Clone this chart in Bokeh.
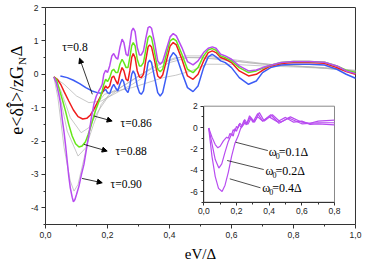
import math
from bokeh.plotting import figure
from bokeh.models import Range1d, FixedTicker, Arrow, NormalHead, Label, LinearAxis
from bokeh.embed import file_html
from bokeh.resources import INLINE
from bokeh.core.properties import value

# ---------------- data ----------------
x_ticks = [0.0, 0.2, 0.4, 0.6, 0.8, 1.0]
x_tick_labels = ["0,0", "0,2", "0,4", "0,6", "0,8", "1,0"]
y_ticks = [-4, -3, -2, -1, 0, 1, 2]
y_tick_labels = ["-4", "-3", "-2", "-1", "0", "1", "2"]

tau_labels = ["\u03c4=0.8", "\u03c4=0.86", "\u03c4=0.88", "\u03c4=0.90"]

tau080_x = [0.048, 0.07, 0.09, 0.11, 0.13, 0.15, 0.167, 0.18, 0.188, 0.194, 0.2, 0.207, 0.214, 0.22, 0.227, 0.233, 0.24, 0.247, 0.252, 0.258, 0.266, 0.272, 0.278, 0.283, 0.289, 0.296, 0.303, 0.309, 0.316, 0.324, 0.331, 0.336, 0.342, 0.352, 0.362, 0.37, 0.378, 0.39, 0.402, 0.412, 0.422, 0.44, 0.458, 0.476, 0.492, 0.51, 0.525, 0.538, 0.55, 0.565, 0.58, 0.6, 0.625, 0.655, 0.68, 0.7, 0.726, 0.76, 0.8, 0.85, 0.9, 0.94, 0.97, 1.0]
tau080_y = [-0.05, -0.1, -0.18, -0.28, -0.4, -0.5, -0.55, -0.57, -0.5, -0.45, -0.55, -0.58, -0.4, -0.3, -0.42, -0.5, -0.3, -0.15, -0.22, -0.45, -0.55, -0.35, 0.0, 0.1, 0.0, -0.35, -0.55, -0.6, -0.5, -0.05, 0.35, 0.42, 0.35, -0.1, -0.55, -0.65, -0.55, -0.05, 0.5, 0.65, 0.55, 0.05, -0.4, -0.52, -0.35, 0.2, 0.52, 0.6, 0.52, 0.4, 0.35, 0.2, -0.1, -0.3, -0.2, 0.05, 0.2, 0.28, 0.3, 0.3, 0.28, 0.15, 0.0, -0.12]

tau086_x = [0.027, 0.038, 0.05, 0.06, 0.075, 0.09, 0.105, 0.12, 0.133, 0.145, 0.156, 0.167, 0.178, 0.188, 0.194, 0.2, 0.207, 0.214, 0.22, 0.227, 0.233, 0.24, 0.247, 0.253, 0.26, 0.266, 0.272, 0.278, 0.283, 0.289, 0.296, 0.303, 0.309, 0.316, 0.324, 0.331, 0.336, 0.342, 0.352, 0.362, 0.37, 0.378, 0.39, 0.402, 0.412, 0.422, 0.44, 0.458, 0.476, 0.492, 0.51, 0.525, 0.538, 0.55, 0.565, 0.58, 0.6, 0.625, 0.655, 0.68, 0.7, 0.726, 0.76, 0.8, 0.85, 0.9, 0.94, 0.97, 1.0]
tau086_y = [-0.08, -0.15, -0.32, -0.52, -0.8, -1.07, -1.27, -1.34, -1.32, -1.22, -1.05, -0.85, -0.65, -0.45, -0.35, -0.42, -0.35, -0.1, -0.05, -0.2, -0.3, 0.0, 0.2, 0.1, -0.15, -0.2, 0.1, 0.5, 0.62, 0.5, 0.1, -0.08, -0.1, 0.0, 0.45, 0.82, 0.88, 0.82, 0.4, -0.05, -0.12, -0.02, 0.4, 0.85, 0.95, 0.88, 0.45, -0.05, -0.15, 0.0, 0.4, 0.65, 0.7, 0.65, 0.5, 0.45, 0.35, 0.1, -0.05, 0.0, 0.12, 0.25, 0.32, 0.35, 0.35, 0.33, 0.2, 0.08, 0.0]

tau088_x = [0.027, 0.035, 0.043, 0.054, 0.065, 0.075, 0.086, 0.097, 0.108, 0.118, 0.129, 0.137, 0.145, 0.153, 0.161, 0.169, 0.177, 0.183, 0.188, 0.194, 0.2, 0.207, 0.214, 0.22, 0.227, 0.233, 0.24, 0.247, 0.253, 0.26, 0.266, 0.272, 0.278, 0.283, 0.289, 0.296, 0.303, 0.309, 0.316, 0.324, 0.331, 0.336, 0.342, 0.352, 0.362, 0.37, 0.378, 0.39, 0.402, 0.412, 0.422, 0.44, 0.458, 0.476, 0.492, 0.51, 0.525, 0.538, 0.55, 0.565, 0.58, 0.6, 0.625, 0.655, 0.68, 0.7, 0.726, 0.76, 0.8, 0.85, 0.9, 0.94, 0.97, 1.0]
tau088_y = [-0.08, -0.15, -0.4, -0.75, -1.12, -1.5, -1.85, -2.08, -2.18, -2.15, -2.02, -1.82, -1.6, -1.35, -1.1, -0.9, -0.7, -0.5, -0.3, -0.15, -0.22, -0.1, 0.1, 0.15, 0.05, 0.05, 0.3, 0.45, 0.35, 0.2, 0.2, 0.5, 0.85, 0.95, 0.85, 0.45, 0.25, 0.25, 0.35, 0.75, 1.1, 1.15, 1.1, 0.65, 0.15, 0.08, 0.15, 0.6, 1.0, 1.07, 1.0, 0.6, 0.15, 0.05, 0.2, 0.55, 0.73, 0.77, 0.72, 0.55, 0.5, 0.4, 0.2, 0.05, 0.1, 0.18, 0.27, 0.35, 0.38, 0.38, 0.36, 0.25, 0.12, 0.05]

tau090_x = [0.027, 0.035, 0.043, 0.048, 0.054, 0.06, 0.065, 0.07, 0.075, 0.08, 0.086, 0.09, 0.095, 0.1, 0.108, 0.116, 0.124, 0.132, 0.14, 0.148, 0.156, 0.164, 0.172, 0.178, 0.183, 0.188, 0.194, 0.2, 0.207, 0.214, 0.22, 0.227, 0.233, 0.24, 0.247, 0.253, 0.26, 0.266, 0.272, 0.278, 0.283, 0.289, 0.296, 0.303, 0.309, 0.316, 0.324, 0.331, 0.336, 0.342, 0.352, 0.362, 0.37, 0.378, 0.39, 0.402, 0.412, 0.422, 0.44, 0.458, 0.476, 0.492, 0.51, 0.525, 0.538, 0.55, 0.565, 0.58, 0.6, 0.625, 0.655, 0.68, 0.7, 0.726, 0.76, 0.8, 0.85, 0.9, 0.94, 0.97, 1.0]
tau090_y = [-0.08, -0.25, -0.6, -0.85, -1.35, -1.75, -2.15, -2.6, -3.05, -3.4, -3.68, -3.82, -3.75, -3.6, -3.35, -3.0, -2.7, -2.25, -1.8, -1.3, -0.9, -0.65, -0.5, -0.4, -0.3, 0.0, 0.12, 0.05, 0.25, 0.55, 0.62, 0.5, 0.45, 0.8, 1.05, 0.95, 0.6, 0.55, 0.9, 1.3, 1.38, 1.28, 0.8, 0.58, 0.58, 0.7, 1.1, 1.4, 1.43, 1.38, 0.95, 0.4, 0.3, 0.38, 0.75, 1.12, 1.22, 1.15, 0.8, 0.38, 0.28, 0.4, 0.65, 0.78, 0.82, 0.78, 0.6, 0.55, 0.45, 0.25, 0.1, 0.13, 0.2, 0.27, 0.35, 0.38, 0.38, 0.36, 0.25, 0.1, 0.02]

# thin grey curves
grey1_x = [0.027, 0.06, 0.1, 0.14, 0.18, 0.22, 0.28, 0.34, 0.4, 0.46, 0.55, 0.65, 0.75, 0.85, 0.95, 1.0]
grey1_y = [-0.08, -0.3, -0.65, -0.85, -0.8, -0.6, -0.3, 0.05, 0.35, 0.5, 0.48, 0.35, 0.28, 0.22, 0.15, 0.1]
grey2_x = [0.027, 0.05, 0.08, 0.115, 0.14, 0.17, 0.2, 0.25, 0.3, 0.36, 0.42, 0.5, 0.6, 0.7, 0.8, 0.9, 1.0]
grey2_y = [-0.08, -0.5, -1.3, -1.75, -1.6, -1.1, -0.7, -0.35, -0.05, 0.3, 0.5, 0.5, 0.4, 0.3, 0.25, 0.2, 0.12]
grey3_x = [0.027, 0.045, 0.07, 0.105, 0.13, 0.155, 0.18, 0.21, 0.26, 0.32, 0.38, 0.45, 0.52, 0.62, 0.72, 0.85, 1.0]
grey3_y = [-0.08, -0.6, -1.7, -2.45, -2.2, -1.5, -0.9, -0.55, -0.3, 0.05, 0.35, 0.55, 0.55, 0.42, 0.3, 0.22, 0.1]
grey4_x = [0.027, 0.04, 0.06, 0.08, 0.092, 0.105, 0.125, 0.145, 0.165, 0.19, 0.23, 0.28, 0.33, 0.38, 0.42, 0.47, 0.52, 0.6, 0.7, 0.8, 0.9, 1.0]
grey4_y = [-0.08, -0.7, -2.2, -3.2, -3.5, -3.3, -2.5, -1.6, -0.9, -0.6, -0.5, -0.4, -0.25, -0.1, -0.03, 0.1, 0.3, 0.3, 0.25, 0.22, 0.18, 0.08]

# inset data
inset_x_ticks = [0.0, 0.2, 0.4, 0.6, 0.8]
inset_x_tick_labels = ["0,0", "0,2", "0,4", "0,6", "0,8"]
inset_y_ticks = [-6, -4, -2, 0, 2]
inset_y_tick_labels = ["-6", "-4", "-2", "0", "2"]
omega_labels = ["=0.1\u0394", "=0.2\u0394", "=0.4\u0394"]

w01_x = [0.03, 0.05, 0.07, 0.086, 0.1, 0.12, 0.14, 0.15, 0.16, 0.17, 0.18, 0.19, 0.2, 0.21, 0.22, 0.235, 0.25, 0.265, 0.285, 0.305, 0.33, 0.36, 0.4, 0.45, 0.5, 0.55, 0.6, 0.65, 0.7, 0.8]
w01_y = [-0.05, -0.9, -1.6, -1.9, -1.75, -1.25, -0.9, -1.0, -0.55, -0.7, -0.2, -0.35, 0.1, -0.05, 0.4, 0.15, 0.75, 0.4, 1.0, 0.5, 1.0, 0.6, 1.0, 0.55, 0.95, 0.5, 0.6, 0.3, 0.35, 0.25]
w02_x = [0.03, 0.05, 0.07, 0.092, 0.11, 0.13, 0.15, 0.17, 0.18, 0.19, 0.2, 0.215, 0.23, 0.245, 0.26, 0.28, 0.3, 0.33, 0.36, 0.41, 0.46, 0.52, 0.6, 0.7, 0.8]
w02_y = [-0.05, -1.5, -3.0, -3.8, -3.4, -2.3, -1.3, -0.6, -0.8, -0.1, -0.35, 0.3, 0.0, 0.65, 0.25, 1.1, 0.5, 1.3, 0.6, 1.2, 0.4, 0.9, 0.35, 0.45, 0.45]
w04_x = [0.03, 0.05, 0.07, 0.09, 0.112, 0.13, 0.15, 0.17, 0.19, 0.21, 0.225, 0.24, 0.255, 0.27, 0.29, 0.31, 0.34, 0.37, 0.42, 0.47, 0.53, 0.6, 0.65, 0.7, 0.8]
w04_y = [-0.05, -2.7, -4.6, -5.7, -6.0, -5.4, -4.2, -2.7, -1.5, -0.8, -0.1, 0.2, 0.5, 0.3, 0.9, 0.5, 1.4, 0.6, 1.2, 0.5, 1.0, 0.5, 0.4, 0.6, 0.7]

# ---------------- figure ----------------
SERIF = "Liberation Serif"
SANS = "Liberation Sans"
XMIN, XMAX = 0.0, 1.0
YMIN, YMAX = -4.5, 2.0

# the frame fills the whole canvas; axes are pinned at the data box edges
p = figure(width=372, height=262, x_range=Range1d(-0.14516, 1.05484),
           y_range=Range1d(-5.6382, 2.2097),
           output_backend="svg", toolbar_location=None,
           x_axis_location=None, y_axis_location=None,
           min_border_left=0, min_border_right=0, min_border_top=0, min_border_bottom=0)
p.background_fill_color = "white"
p.border_fill_color = "white"
p.outline_line_color = None
p.grid.visible = False


def style_axis(ax, major=4, minor=2):
    ax.axis_line_color = "#333333"
    ax.major_tick_line_color = "#333333"
    ax.minor_tick_line_color = "#333333"
    ax.major_tick_in = 0
    ax.major_tick_out = major
    ax.minor_tick_in = 0
    ax.minor_tick_out = minor
    ax.major_label_text_font = SANS
    ax.major_label_text_font_size = "8.5px"
    ax.major_label_text_color = "#222222"
    ax.major_label_standoff = 3


xax = LinearAxis(fixed_location=YMIN, bounds=(XMIN, XMAX),
                 ticker=FixedTicker(ticks=x_ticks, minor_ticks=[0.1, 0.3, 0.5, 0.7, 0.9]),
                 major_label_overrides=dict(zip(x_ticks, x_tick_labels)))
yax = LinearAxis(fixed_location=XMIN, bounds=(YMIN, YMAX),
                 ticker=FixedTicker(ticks=y_ticks, minor_ticks=[-4.5, -3.5, -2.5, -1.5, -0.5, 0.5, 1.5]),
                 major_label_overrides=dict(zip(y_ticks, y_tick_labels)))
style_axis(xax)
style_axis(yax)

# main box (top and right sides)
p.segment(x0=[XMIN, XMAX], y0=[YMAX, YMIN], x1=[XMAX, XMAX], y1=[YMAX, YMAX],
          line_color="#333333", line_width=1)

# grey curves
for gx, gy in [(grey1_x, grey1_y), (grey2_x, grey2_y), (grey3_x, grey3_y), (grey4_x, grey4_y)]:
    p.line(gx, gy, line_color="#b0b0b0", line_width=0.7)

# coloured curves
p.line(tau080_x, tau080_y, line_color="#3c5cf5", line_width=1.5)
p.line(tau086_x, tau086_y, line_color="#f01c1c", line_width=1.5)
p.line(tau088_x, tau088_y, line_color="#66e619", line_width=1.5)
p.line(tau090_x, tau090_y, line_color="#b84cf0", line_width=1.5)

# tau annotations
arrows = [((0.151, -0.60), (0.110, 0.48)),
          ((0.156, -1.25), (0.215, -1.40)),
          ((0.124, -2.10), (0.199, -2.30)),
          ((0.118, -3.12), (0.183, -3.25))]
label_pos = [(0.054, 0.82), (0.242, -1.46), (0.226, -2.30), (0.21, -3.28)]
for (s, e), (lx, ly), txt in zip(arrows, label_pos, tau_labels):
    p.add_layout(Arrow(x_start=s[0], y_start=s[1], x_end=e[0], y_end=e[1],
                       line_color="black", line_width=0.8,
                       end=NormalHead(size=5, fill_color="black", line_color="black")))
    p.add_layout(Label(x=lx, y=ly, text=txt, text_font=SERIF, text_font_size="11.5px",
                       text_baseline="middle", text_align="left", text_color="black"))

# axis titles
p.add_layout(Label(x=0.5, y=-5.38, text="eV/\u0394", text_font=SERIF, text_font_size="15px",
                   text_align="center", text_baseline="middle", text_color="black"))
p.add_layout(Label(x=-0.092, y=0.25, text="e<\u03b4\u00ce>/zG", angle=math.pi / 2,
                   text_font=SERIF, text_font_size="18px", text_align="right",
                   text_baseline="middle", text_color="black"))
p.add_layout(Label(x=-0.077, y=0.28, text="N", angle=math.pi / 2,
                   text_font=SERIF, text_font_size="11px", text_align="left",
                   text_baseline="middle", text_color="black"))
p.add_layout(Label(x=-0.092, y=0.53, text="\u0394", angle=math.pi / 2,
                   text_font=SERIF, text_font_size="17px", text_align="left",
                   text_baseline="middle", text_color="black"))

# ---------------- inset (own ranges) ----------------
p.extra_x_ranges = {"ix": Range1d(-1.2444, 1.0326)}
p.extra_y_ranges = {"iy": Range1d(-12.653, 11.909)}
I = dict(x_range_name="ix", y_range_name="iy")
IX0, IX1, IY0, IY1 = 0.0, 0.8, -7.0, 2.0

p.quad(left=[IX0], right=[IX1], bottom=[IY0], top=[IY1], fill_color="white",
       line_color="#888888", line_width=1, **I)

ixax = LinearAxis(fixed_location=IY0, bounds=(IX0, IX1), **I,
                  ticker=FixedTicker(ticks=inset_x_ticks, minor_ticks=[0.1, 0.3, 0.5, 0.7]),
                  major_label_overrides=dict(zip(inset_x_ticks, inset_x_tick_labels)))
iyax = LinearAxis(fixed_location=IX0, bounds=(IY0, IY1), **I,
                  ticker=FixedTicker(ticks=inset_y_ticks, minor_ticks=[-7, -5, -3, -1, 1]),
                  major_label_overrides=dict(zip(inset_y_ticks, inset_y_tick_labels)))
style_axis(ixax, 3, 2)
style_axis(iyax, 3, 2)

p.add_layout(xax, "below")
p.add_layout(yax, "left")
p.add_layout(ixax, "below")
p.add_layout(iyax, "left")

p.line(w01_x, w01_y, line_color="#b84cf0", line_width=1.2, **I)
p.line(w02_x, w02_y, line_color="#b84cf0", line_width=1.2, **I)
p.line(w04_x, w04_y, line_color="#b84cf0", line_width=1.2, **I)

inset_lines = [((0.195, -1.38), (0.392, -2.16)),
               ((0.143, -3.09), (0.367, -3.94)),
               ((0.159, -4.81), (0.347, -5.65))]
p.segment(x0=[l[0][0] for l in inset_lines], y0=[l[0][1] for l in inset_lines],
          x1=[l[1][0] for l in inset_lines], y1=[l[1][1] for l in inset_lines],
          line_color="black", line_width=0.7, **I)
om_pos = [(0.398, -2.25), (0.378, -4.03), (0.357, -5.69)]
ox = [o[0] for o in om_pos]
oy = [o[1] for o in om_pos]
p.text(x=ox, y=oy, text=["\u03c9"] * 3, text_font=value(SERIF), text_font_size="12px",
       text_align="left", text_baseline="middle", text_color="black", **I)
p.text(x=ox, y=oy, text=["0"] * 3, x_offset=7, y_offset=4, text_font=value(SERIF),
       text_font_size="8px", text_align="left", text_baseline="middle", text_color="black", **I)
p.text(x=ox, y=oy, text=omega_labels, x_offset=10, text_font=value(SERIF), text_font_size="12px",
       text_align="left", text_baseline="middle", text_color="black", **I)

with open("out.html", "w") as f:
    f.write(file_html(p, INLINE))
